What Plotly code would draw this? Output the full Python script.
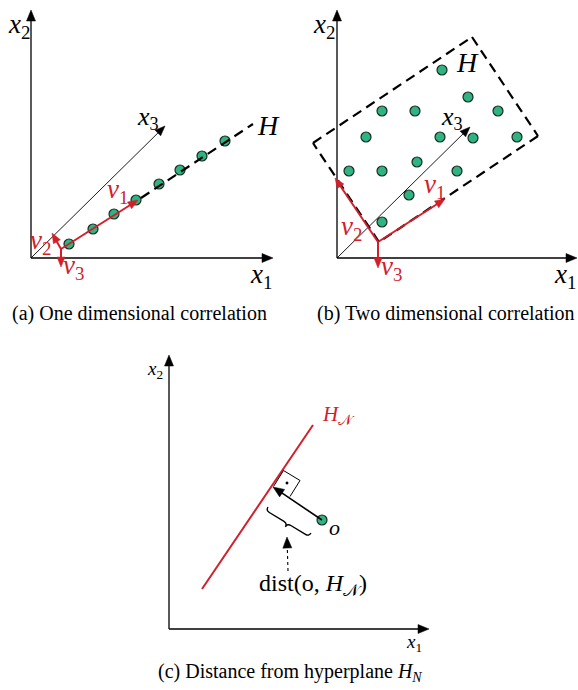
import math
import plotly.graph_objects as go

W, H = 578, 690
SERIF = "Liberation Serif"
RED = "#d1202c"
GREEN = "#2fb383"

# ---- panel (a): one dimensional correlation ----
a_origin = (31, 258)
a_x2_tip = (31, 10)
a_x1_tip = (273, 258)
a_x3_tip = (165, 126)
a_line_H = [(141, 198), (253, 124)]
a_dots_x = [69, 93, 114, 136, 159, 180, 202, 225]
a_dots_y = [244, 229, 214, 200, 184, 170, 156, 141]
a_v_origin = (61, 249)
a_v1_tip = (138, 200)
a_v2_tip = (52, 233)
a_v3_tip = (61, 267)

# ---- panel (b): two dimensional correlation ----
b_origin = (337, 258)
b_x2_tip = (337, 10)
b_x1_tip = (577, 258)
b_x3_tip = (470, 127)
b_plane = [(313, 143), (472, 37), (538, 136), (379, 242)]
b_dots_x = [442, 468, 382, 415, 498, 366, 440, 473, 517, 349, 382, 417, 457, 409, 382]
b_dots_y = [70, 97, 111, 111, 111, 137, 137, 138, 137, 171, 171, 162, 171, 195, 222]
b_v_origin = (378, 242)
b_v1_tip = (445, 199)
b_v2_tip = (335, 178)
b_v3_tip = (378, 268)

# ---- panel (c): distance from hyperplane ----
c_origin = (169, 629)
c_x2_tip = (169, 355)
c_x1_tip = (429, 629)
c_hyperplane = [(202, 589), (313, 425)]
c_point_o = (322, 520)
c_foot = (273, 487)
c_square = [(273.5, 486.5), (283.5, 470.5), (300, 480.5), (290, 496.5)]
c_square_dot = (287, 483)
c_brace = [(268, 507), (311, 533)]
c_dash_arrow = [(288, 571), (287, 537)]

captions = [
    ("(a) One dimensional correlation", 139, 313),
    ("(b) Two dimensional correlation", 446, 313),
    ("(c) Distance from hyperplane <i>H<sub>N</sub></i>", 290, 672),
]

fig = go.Figure()
shapes = []
annotations = []


def line(p, q, color="black", width=1.0, dash="solid"):
    shapes.append(dict(type="line", x0=p[0], y0=p[1], x1=q[0], y1=q[1],
                       xref="x", yref="y",
                       line=dict(color=color, width=width, dash=dash)))


def head(tail, tip, color="black", length=10.0, half=4.0):
    """Filled triangular arrowhead at `tip`, pointing away from `tail`."""
    dx, dy = tip[0] - tail[0], tip[1] - tail[1]
    dl = math.hypot(dx, dy)
    ux, uy = dx / dl, dy / dl
    bx, by = tip[0] - ux * length, tip[1] - uy * length
    p1 = (bx - uy * half, by + ux * half)
    p2 = (bx + uy * half, by - ux * half)
    shapes.append(dict(type="path", xref="x", yref="y",
                       path=f"M {tip[0]:.2f},{tip[1]:.2f} L {p1[0]:.2f},{p1[1]:.2f} "
                            f"L {p2[0]:.2f},{p2[1]:.2f} Z",
                       fillcolor=color, line=dict(color=color, width=0.5)))
    return (tip[0] - ux * length * 0.6, tip[1] - uy * length * 0.6)


def arrow(tail, tip, color="black", width=1.3, length=10.0, half=4.0, dash="solid"):
    end = head(tail, tip, color, length, half)
    line(tail, end, color=color, width=width, dash=dash)


def label(text, x, y, size, color="black"):
    annotations.append(dict(
        x=x, y=y, xref="x", yref="y", text=text, showarrow=False,
        font=dict(family=SERIF, size=size, color=color),
        xanchor="center", yanchor="middle",
    ))


def xlab(i):
    return f"<i>x</i><sub>{i}</sub>"


# panel (a)
arrow(a_origin, a_x2_tip, width=1.3, length=11, half=4.5)
arrow(a_origin, a_x1_tip, width=1.3, length=11, half=4.5)
arrow(a_origin, a_x3_tip, width=0.9, length=10, half=4)
line(a_line_H[0], a_line_H[1], width=2.2, dash="10px,6px")
label(xlab(2), 19, 26, 27)
label(xlab(1), 261, 276, 27)
label(xlab(3), 148, 118, 26)
label("<i>H</i>", 268, 125, 28)

# panel (b)
arrow(b_origin, b_x2_tip, width=1.3, length=11, half=4.5)
arrow(b_origin, b_x1_tip, width=1.3, length=11, half=4.5)
arrow(b_origin, b_x3_tip, width=0.9, length=10, half=4)
for i in range(4):
    line(b_plane[i], b_plane[(i + 1) % 4], width=2.2, dash="10px,6px")
label(xlab(2), 324, 26, 27)
label(xlab(1), 565, 276, 27)
label(xlab(3), 452, 118, 26)
label("<i>H</i>", 467, 62, 28)

# panel (c)
arrow(c_origin, c_x2_tip, width=1.3, length=11, half=4.5)
arrow(c_origin, c_x1_tip, width=1.3, length=11, half=4.5)
line(c_hyperplane[0], c_hyperplane[1], color=RED, width=2.0)
sq = c_square
shapes.append(dict(type="path", xref="x", yref="y",
                   path=f"M {sq[0][0]},{sq[0][1]} L {sq[1][0]},{sq[1][1]} "
                        f"L {sq[2][0]},{sq[2][1]} L {sq[3][0]},{sq[3][1]}",
                   line=dict(color="black", width=1.0)))
d = c_square_dot
shapes.append(dict(type="circle", xref="x", yref="y",
                   x0=d[0] - 1.2, x1=d[0] + 1.2, y0=d[1] - 1.2, y1=d[1] + 1.2,
                   fillcolor="black", line=dict(color="black", width=0.5)))
arrow(c_point_o, c_foot, width=1.6, length=11, half=4.5)

# curly brace along the distance arrow
(p1, p2) = c_brace
L = math.hypot(p2[0] - p1[0], p2[1] - p1[1])
u = ((p2[0] - p1[0]) / L, (p2[1] - p1[1]) / L)
n = (-u[1], u[0])
h = 8.0


def bp(s, t):
    return f"{p1[0] + s * u[0] + t * n[0]:.2f},{p1[1] + s * u[1] + t * n[1]:.2f}"


brace = (f"M {bp(0, 0)} Q {bp(0, h / 2)} {bp(h / 2, h / 2)} "
         f"L {bp(L / 2 - h / 2, h / 2)} Q {bp(L / 2, h / 2)} {bp(L / 2, h)} "
         f"Q {bp(L / 2, h / 2)} {bp(L / 2 + h / 2, h / 2)} "
         f"L {bp(L - h / 2, h / 2)} Q {bp(L, h / 2)} {bp(L, 0)}")
shapes.append(dict(type="path", xref="x", yref="y", path=brace,
                   line=dict(color="black", width=1.4)))

# dashed pointer to the brace
arrow(c_dash_arrow[0], c_dash_arrow[1], width=1.1, length=11, half=4.5,
      dash="3px,3px")

label("<i>x</i><sub>2</sub>", 155, 370, 19)
label("<i>x</i><sub>1</sub>", 414, 643, 19)
label("<i>H</i><sub>𝒩</sub>", 338, 415, 21, color=RED)
label("<i>o</i>", 334, 527, 22)
label("dist(o, <i>H</i><sub>𝒩</sub>)", 313, 585, 24)

# data points
fig.add_trace(go.Scatter(
    x=a_dots_x + b_dots_x + [c_point_o[0]],
    y=a_dots_y + b_dots_y + [c_point_o[1]],
    mode="markers", hoverinfo="skip",
    marker=dict(size=10, color=GREEN, line=dict(color="#1a2a22", width=1.2)),
))

# red basis vectors, drawn above the data points
red_shapes_start = len(shapes)
for origin, tips in ((a_v_origin, (a_v1_tip, a_v2_tip, a_v3_tip)),
                     (b_v_origin, (b_v1_tip, b_v2_tip, b_v3_tip))):
    for t in tips:
        arrow(origin, t, color=RED, width=2.0, length=10, half=4)
for s in shapes[red_shapes_start:]:
    s["layer"] = "above"

label("<i>v</i><sub>1</sub>", 117, 191, 27, color=RED)
label("<i>v</i><sub>2</sub>", 40, 242, 27, color=RED)
label("<i>v</i><sub>3</sub>", 73, 267, 27, color=RED)
label("<i>v</i><sub>1</sub>", 434, 186, 27, color=RED)
label("<i>v</i><sub>2</sub>", 351, 228, 27, color=RED)
label("<i>v</i><sub>3</sub>", 391, 268, 27, color=RED)

for text, x, y in captions:
    label(text, x, y, 20)

fig.update_layout(
    width=W, height=H, margin=dict(l=0, r=0, t=0, b=0),
    paper_bgcolor="white", plot_bgcolor="white", showlegend=False,
    xaxis=dict(range=[0, W], visible=False, fixedrange=True),
    yaxis=dict(range=[H, 0], visible=False, fixedrange=True),
    shapes=shapes, annotations=annotations,
)
fig.write_html("out.html", config={"displayModeBar": False})
